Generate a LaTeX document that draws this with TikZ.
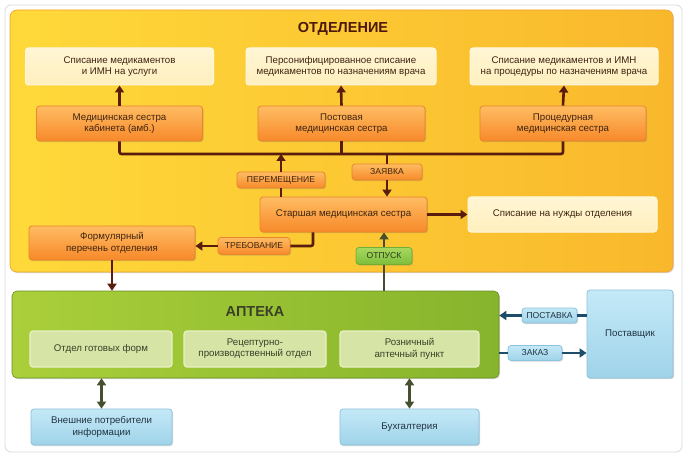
\documentclass[tikz,border=0pt]{standalone}
\usepackage{fontspec}
\setmainfont{Liberation Sans}
\usetikzlibrary{arrows.meta,shadows}
\definecolor{brn}{HTML}{5A1C0C}
\definecolor{txtb}{HTML}{3E2410}
\definecolor{grnln}{HTML}{45502E}
\definecolor{blueln}{HTML}{1E4D6B}
\definecolor{HTML_FFF6D4}{HTML}{FFF6D4}
\definecolor{HTML_FFEFBE}{HTML}{FFEFBE}
\definecolor{HTML_FFF8E0}{HTML}{FFF8E0}
\definecolor{HTML_FFBC62}{HTML}{FFBC62}
\definecolor{HTML_F7892A}{HTML}{F7892A}
\definecolor{HTML_E8862E}{HTML}{E8862E}
\definecolor{HTML_A8D85E}{HTML}{A8D85E}
\definecolor{HTML_7DBE3C}{HTML}{7DBE3C}
\definecolor{HTML_6FAE35}{HTML}{6FAE35}
\definecolor{HTML_2E3A1E}{HTML}{2E3A1E}
\definecolor{HTML_D6E4A6}{HTML}{D6E4A6}
\definecolor{HTML_E8F1C6}{HTML}{E8F1C6}
\definecolor{HTML_3A4028}{HTML}{3A4028}
\definecolor{HTML_C4E9F7}{HTML}{C4E9F7}
\definecolor{HTML_9FD3E9}{HTML}{9FD3E9}
\definecolor{HTML_8CC3DC}{HTML}{8CC3DC}
\definecolor{HTML_1F3340}{HTML}{1F3340}
\definecolor{panY1}{HTML}{FFD93A}
\definecolor{panY2}{HTML}{F9B82C}
\definecolor{panG1}{HTML}{AACF3A}
\definecolor{panG2}{HTML}{86B42C}
\definecolor{frame}{HTML}{D5DADD}
\tikzset{
  x=1pt, y=-1pt,
  every node/.style={font=\fontsize{9.7}{11.2}\selectfont, align=center, inner sep=0pt},
  shd/.style={drop shadow={shadow xshift=1pt, shadow yshift=-1.2pt, opacity=0.25, fill=black!60}},
  cream/.style={rounded corners=3pt, top color=HTML_FFF6D4, bottom color=HTML_FFEFBE, draw=HTML_FFF8E0, line width=1pt, text=txtb},
  nurse/.style={rounded corners=3pt, top color=HTML_FFBC62, bottom color=HTML_F7892A, draw=HTML_E8862E, line width=0.8pt, text=txtb, shd},
  olbl/.style={nurse, font=\fontsize{8.6}{10}\selectfont, minimum height=16pt},
  glbl/.style={rounded corners=3pt, top color=HTML_A8D85E, bottom color=HTML_7DBE3C, draw=HTML_6FAE35, line width=0.8pt, text=HTML_2E3A1E, font=\fontsize{8.6}{10}\selectfont, minimum height=17pt, shd},
  gbox/.style={rounded corners=3pt, fill=HTML_D6E4A6, draw=HTML_E8F1C6, line width=1.2pt, text=HTML_3A4028},
  bbox/.style={rounded corners=3pt, top color=HTML_C4E9F7, bottom color=HTML_9FD3E9, draw=HTML_8CC3DC, line width=0.8pt, text=HTML_1F3340, shd},
  blbl/.style={bbox, font=\fontsize{8.6}{10}\selectfont, minimum height=15pt},
  tip/.tip={Triangle[length=7pt,width=9pt]},
  arr/.style={draw=brn, line width=2.6pt, -tip},
  ln/.style={draw=brn, line width=2.6pt},
  garr/.style={draw=grnln, line width=2.6pt, tip-tip},
  barr/.style={draw=blueln, line width=2.6pt, -tip},
  bln/.style={draw=blueln, line width=2.6pt},
}
\begin{document}
\begin{tikzpicture}
\useasboundingbox (0,0) rectangle (687,462);
% outer frame
\draw[draw=frame, fill=white, rounded corners=6pt, line width=0.8pt] (5,5) rectangle (682,452);
% panels
\node[rounded corners=7pt, left color=panY1, right color=panY2, draw=HTML_E8862E!50!panY2, line width=0.6pt, minimum width=663pt, minimum height=262pt, shd] (otd) at (341.5,141) {};
\node[font=\fontsize{14.5}{16}\bfseries, text=brn!85!black] at (343,29) {ОТДЕЛЕНИЕ};
\node[rounded corners=5pt, left color=panG1, right color=panG2, draw=panG2!80!black, line width=0.6pt, minimum width=487pt, minimum height=87pt, shd] (apt) at (255.5,334.5) {};
\node[font=\fontsize{14.5}{16}\bfseries, text=HTML_3A4028] at (255,312) {АПТЕКА};

% top cream boxes
\node[cream, minimum width=188pt, minimum height=37pt] (c1) at (119.5,66.5) {Списание медикаментов\\и ИМН на услуги};
\node[cream, minimum width=190pt, minimum height=37pt] (c2) at (341,66.5) {Персонифицированное списание\\медикаментов по назначениям врача};
\node[cream, minimum width=188pt, minimum height=37pt] (c3) at (564,66.5) {Списание медикаментов и ИМН\\на процедуры по назначениям врача};

% nurses
\node[nurse, minimum width=166pt, minimum height=35pt] (n1) at (119.5,123.5) {Медицинская сестра\\кабинета (амб.)};
\node[nurse, minimum width=167pt, minimum height=35pt] (n2) at (341.5,123.5) {Постовая\\медицинская сестра};
\node[nurse, minimum width=166pt, minimum height=35pt] (n3) at (563,123.5) {Процедурная\\медицинская сестра};

\draw[arr] (n1.north) -- (c1.south);
\draw[arr] (n2.north) -- (c2.south);
\draw[arr] (n3.north) -- (c3.south);

% bus
\coordinate (bus) at (341,154);
\draw[ln, rounded corners=2pt] (n1.south) -- (n1.south |- bus) -- (n3.south |- bus) -- (n3.south);
\draw[ln] (n2.south) -- (n2.south |- bus);

% senior nurse
\node[nurse, minimum width=167pt, minimum height=35pt] (st) at (343.5,214.5) {Старшая медицинская сестра};
\node[cream, minimum width=189pt, minimum height=35pt] (nd) at (562.5,214.5) {Списание на нужды отделения};
\draw[arr] (st.east) -- (nd.west);

% labels
\node[olbl, minimum width=88pt] (pm) at (281,180) {ПЕРЕМЕЩЕНИЕ};
\draw[ln] (st.north -| pm.south) -- (pm.south);
\draw[arr] (pm.north) -- (pm.north |- bus);

\node[olbl, minimum width=70pt] (zy) at (387,172) {ЗАЯВКА};
\draw[ln] (zy.north |- bus) -- (zy.north);
\draw[arr] (zy.south) -- (zy.south |- st.north);

% formular
\node[nurse, minimum width=166pt, minimum height=34pt] (form) at (112,243) {Формулярный\\перечень отделения};
\node[olbl, minimum width=72pt, minimum height=17pt] (tr) at (254,246) {ТРЕБОВАНИЕ};
\coordinate (trc) at (313,246);
\draw[ln, rounded corners=2pt] (st.south -| trc) -- (trc) -- (tr.east);
\draw[arr] (tr.west) -- (form.east |- tr.west);
\draw[arr] (form.south) -- (form.south |- apt.north);

% otpusk
\node[glbl, minimum width=56pt] (ot) at (384,256) {ОТПУСК};
\draw[draw=grnln, line width=2.6pt] (apt.north -| ot.south) -- (ot.south);
\draw[draw=grnln, line width=2.6pt, -tip] (ot.north) -- (ot.north |- st.south);

% pharmacy inner boxes
\node[gbox, minimum width=142pt, minimum height=36pt] (g1) at (101,349) {Отдел готовых форм};
\node[gbox, minimum width=142pt, minimum height=36pt] (g2) at (255,349) {Рецептурно-\\производственный отдел};
\node[gbox, minimum width=139pt, minimum height=36pt] (g3) at (409.5,349) {Розничный\\аптечный пункт};

% supplier
\node[bbox, minimum width=86pt, minimum height=88pt] (sup) at (630,334) {Поставщик};
\node[blbl, minimum width=55pt] (pst) at (549.5,315.5) {ПОСТАВКА};
\node[blbl, minimum width=54pt] (zk) at (535,353) {ЗАКАЗ};
\draw[bln] (sup.west |- pst.east) -- (pst.east);
\draw[barr] (pst.west) -- (apt.east |- pst.west);
\draw[bln] (apt.east |- zk.west) -- (zk.west);
\draw[barr] (zk.east) -- (sup.west |- zk.east);

% bottom
\node[bbox, minimum width=141pt, minimum height=36pt] (ext) at (101.5,427) {Внешние потребители\\информации};
\node[bbox, minimum width=139pt, minimum height=36pt] (buh) at (409.5,427) {Бухгалтерия};
\draw[garr] (apt.south -| ext.north) -- (ext.north);
\draw[garr] (apt.south -| buh.north) -- (buh.north);
\end{tikzpicture}
\end{document}
